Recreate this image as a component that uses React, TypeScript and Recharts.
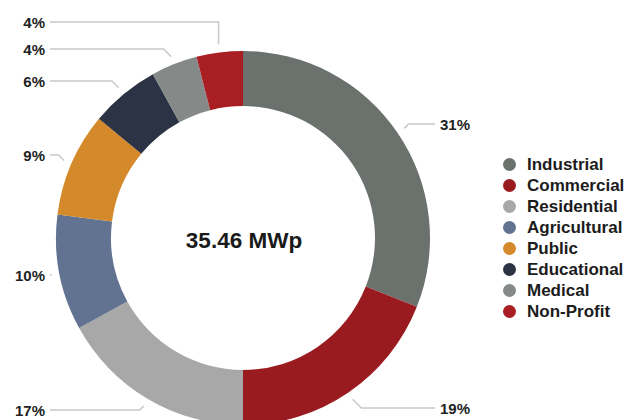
import { PieChart, Pie, Cell, Legend } from 'recharts';

const categories = ['Industrial', 'Commercial', 'Residential', 'Agricultural', 'Public', 'Educational', 'Medical', 'Non-Profit'];
const shares = [31, 19, 17, 10, 9, 6, 4, 4];
const colors = ['#6b716d', '#9a1b1f', '#a8a8a8', '#627291', '#d4892a', '#2c3344', '#858a88', '#a81e22'];
const totalLabel = '35.46 MWp';

const data = categories.map((name, i) => ({ name, value: shares[i] }));

// where each label text sits vertically (layout only)
const labelY = [124, 408, 410, 275, 155, 81, 49, 22];

const FONT = '"Liberation Sans", Arial, Helvetica, sans-serif';
const RADIAN = Math.PI / 180;

const renderLabel = (props: any) => {
  const { cx, cy, midAngle, outerRadius, index, value } = props;
  const r = outerRadius + 8;
  const ax = cx + r * Math.cos(-midAngle * RADIAN);
  const ay = cy + r * Math.sin(-midAngle * RADIAN);
  const right = ax > cx;
  const side = right ? 1 : -1;
  const ty = labelY[index];
  const dy = Math.abs(ty - ay);
  const kx = ax + side * (dy > 12 ? 0 : dy);
  const endX = right ? 435 : 50;
  const textX = right ? 440 : 45;
  return (
    <g key={'lbl' + index}>
      <polyline
        points={`${ax},${ay} ${kx},${ty} ${endX},${ty}`}
        fill="none"
        stroke="#c9c9c9"
        strokeWidth={1.5}
      />
      <text
        x={textX}
        y={ty}
        textAnchor={right ? 'start' : 'end'}
        dominantBaseline="central"
        fontFamily={FONT}
        fontWeight="bold"
        fontSize={15}
        fill="#222"
      >
        {value}%
      </text>
    </g>
  );
};

const renderLegend = () => (
  <div style={{ fontFamily: FONT }}>
    {categories.map((c, i) => (
      <div key={c} style={{ display: 'flex', alignItems: 'center', height: 21 }}>
        <span
          style={{
            width: 13,
            height: 13,
            borderRadius: '50%',
            background: colors[i],
            display: 'inline-block',
            marginRight: 11,
          }}
        />
        <span style={{ fontWeight: 'bold', fontSize: 17, color: '#1c1c1c', whiteSpace: 'nowrap' }}>{c}</span>
      </div>
    ))}
  </div>
);

export default function App() {
  return (
    <div style={{ position: 'fixed', left: 0, top: 0, width: 627, height: 420, background: '#fff', overflow: 'hidden' }}>
      <PieChart width={627} height={420} margin={{ top: 0, right: 0, bottom: 0, left: 0 }}>
        <Pie
          data={data}
          dataKey="value"
          nameKey="name"
          cx={243}
          cy={238}
          innerRadius={132}
          outerRadius={187}
          startAngle={90}
          endAngle={-270}
          stroke="none"
          label={renderLabel}
          labelLine={false}
          isAnimationActive={false}
        >
          {data.map((d, i) => (
            <Cell key={d.name} fill={colors[i]} />
          ))}
        </Pie>
        <text
          x={244}
          y={240}
          textAnchor="middle"
          dominantBaseline="central"
          fontFamily={FONT}
          fontWeight="bold"
          fontSize={22.5}
          fill="#1a1a1a"
        >
          {totalLabel}
        </text>
        <Legend
          content={renderLegend}
          wrapperStyle={{ position: 'absolute', left: 503, top: 154, width: 140 }}
        />
      </PieChart>
    </div>
  );
}
